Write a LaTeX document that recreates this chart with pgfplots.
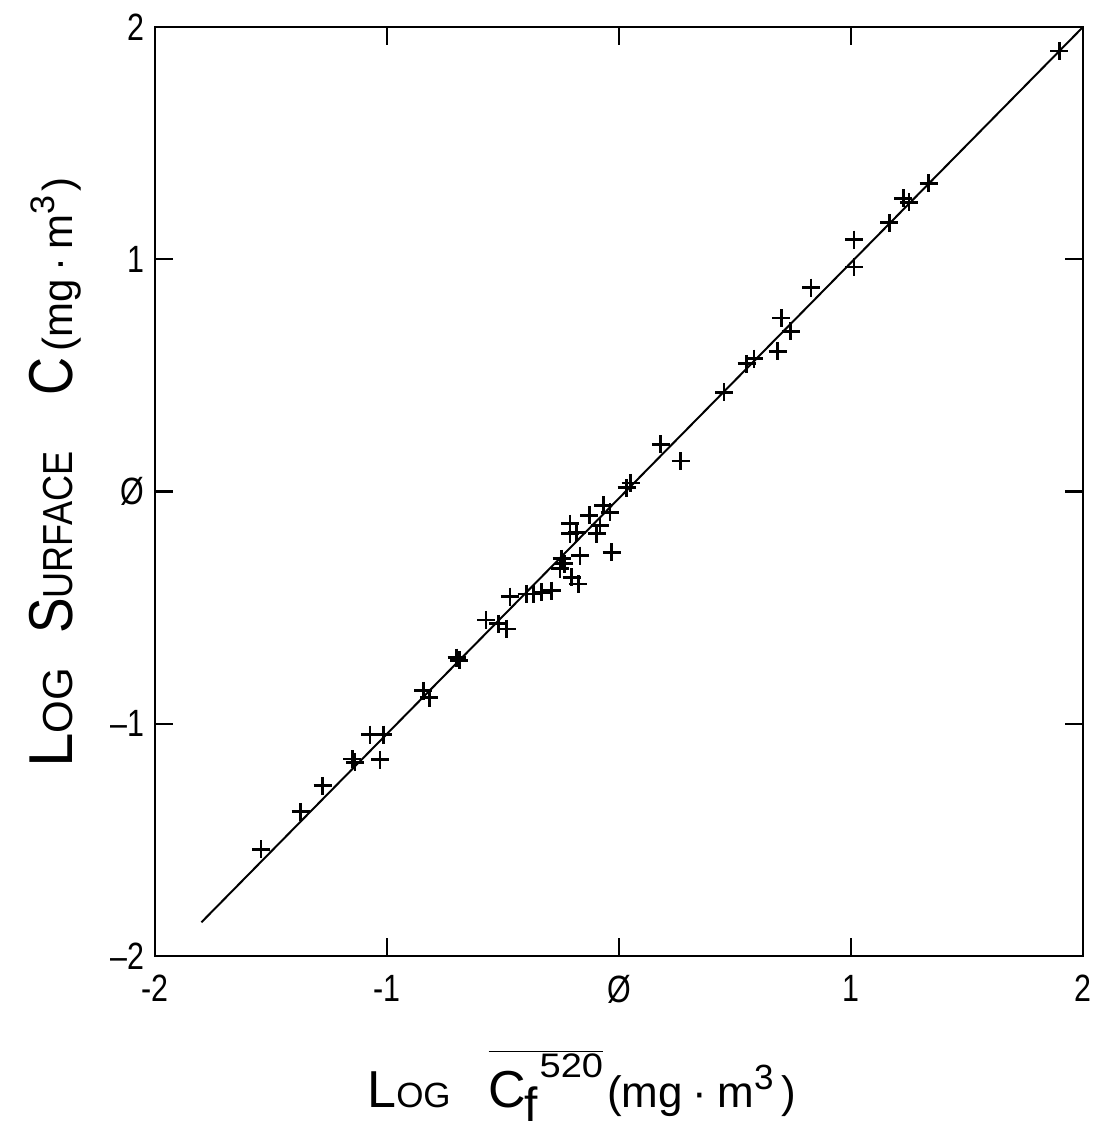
\documentclass[border=0pt]{standalone}
\usepackage{fontspec}
\usepackage{graphicx}
\setmainfont{Liberation Sans}
\newfontfamily\tickfont{Liberation Sans}[FakeStretch=0.8]
\usepackage{pgfplots}
\pgfplotsset{compat=1.18}
\newcommand{\fs}[2]{{\fontsize{#1}{#1}\selectfont #2}}
\begin{document}
\begin{tikzpicture}
\begin{axis}[
  at={(0,0)}, anchor=south west,
  scale only axis, width=464pt, height=464.5pt,
  xmin=-2, xmax=2, ymin=-2, ymax=2,
  axis line style={line width=1.2pt},
  xtick={-2,-1,0,1,2}, ytick={-2,-1,0,1,2},
  xticklabels={-2,-1,Ø,1,2},
  yticklabels={–2,–1,Ø,1,2},
  tick align=inside, major tick length=9pt,
  tick style={line width=1.2pt, black},
  xtick pos=both, ytick pos=both,
  ticklabel style={font=\tickfont\fontsize{19}{19}\selectfont},
  xticklabel style={yshift=-6pt},
  yticklabel style={xshift=-2pt},
  xlabel={\fs{26}{L}\fs{17.5}{OG}\hspace{19pt}\fs{26}{$\overline{\mbox{C\hspace{-1pt}\raisebox{-7pt}{\fs{24}{f}}\hspace{1pt}\raisebox{15pt}{\scalebox{1.12}[1]{\fs{17}{520}}}}}$}\hspace{2pt}\fs{22}{(mg\hspace{5pt}·\hspace{5pt}m\raisebox{9pt}{\fs{17.5}{3}}\hspace{4pt})}},
  ylabel={\fs{31}{L}\fs{21}{OG}\hspace{17pt}\scalebox{0.86}[1]{\fs{31}{S}\fs{21}{URFACE}}\hspace{28pt}\scalebox{0.85}[1]{\fs{31}{C}}\hspace{3pt}\fs{21}{(mg\hspace{4pt}·\hspace{4pt}m\raisebox{9pt}{\fs{17}{3}}\hspace{2pt})}},
  xlabel style={at={(axis description cs:0.2284,-0.1636)}, anchor=base west, inner sep=0pt},
  ylabel style={at={(axis description cs:-0.0894,0.2024)}, anchor=base west, inner sep=0pt, rotate=0},
]
\addplot[black, line width=1pt] coordinates {(-1.8,-1.855) (2,2)};
\addplot[only marks, mark=+, mark size=4.5pt, mark options={line width=1.4pt, black}] table {
x y
1.897 1.897
1.335 1.327
1.225 1.262
1.250 1.246
1.165 1.157
1.013 1.085
1.013 0.967
0.828 0.878
0.700 0.747
0.740 0.690
0.684 0.603
0.550 0.550
0.582 0.572
0.453 0.428
0.180 0.203
0.266 0.131
0.033 0.016
0.050 0.037
-0.068 -0.060
-0.039 -0.089
-0.128 -0.103
-0.211 -0.139
-0.082 -0.147
-0.182 -0.175
-0.096 -0.182
-0.211 -0.182
-0.032 -0.261
-0.168 -0.276
-0.247 -0.290
-0.235 -0.310
-0.254 -0.333
-0.204 -0.369
-0.175 -0.398
-0.290 -0.427
-0.333 -0.434
-0.369 -0.441
-0.398 -0.441
-0.470 -0.453
-0.573 -0.553
-0.520 -0.570
-0.484 -0.592
-0.700 -0.715
-0.688 -0.727
-0.843 -0.858
-0.818 -0.887
-1.073 -1.047
-1.016 -1.047
-1.150 -1.152
-1.138 -1.166
-1.030 -1.155
-1.277 -1.267
-1.372 -1.379
-1.543 -1.540
};
\end{axis}
\pgfresetboundingbox
\path[use as bounding box] (-77.5pt,-87.5pt) rectangle (471pt,478pt);
\end{tikzpicture}
\end{document}
